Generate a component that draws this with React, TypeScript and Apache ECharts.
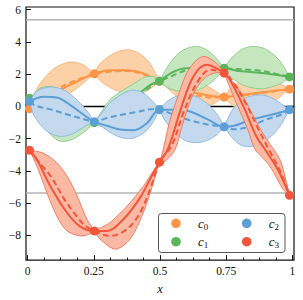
import React, { useEffect, useRef } from "react";
import * as echarts from "echarts";

type Pt = [number, number];

// x positions of the observed points
const dotX = [0.007, 0.252, 0.498, 0.742, 0.989];

// observed values
const c0Dots = [-0.14, 2.02, 1.55, 0.58, 1.07];
const c1Dots = [0.5, -1.0, 1.57, 2.37, 1.83];
const c2Dots = [0.31, -0.95, -0.2, -1.27, -0.2];
const c3Dots = [-2.72, -7.73, -3.46, 2.07, -5.52];

// c0
const c0Upper: Pt[] = [[0.007,-0.14],[0.04,1.24],[0.1,2.35],[0.16,2.76],[0.21,2.58],[0.252,2.02],[0.27,2.6],[0.31,3.15],[0.35,3.45],[0.39,3.5],[0.43,3.2],[0.465,2.6],[0.498,1.55],[0.53,2.0],[0.58,2.0],[0.63,1.75],[0.663,1.45],[0.7,1.05],[0.742,0.58],[0.77,1.2],[0.81,1.5],[0.86,1.65],[0.91,1.65],[0.95,1.45],[0.989,1.07]];
const c0Lower: Pt[] = [[0.007,-0.14],[0.05,-0.5],[0.1,0.1],[0.16,0.82],[0.2,1.3],[0.252,2.02],[0.28,1.5],[0.32,1.1],[0.37,0.8],[0.41,0.75],[0.45,0.95],[0.498,1.55],[0.53,1.1],[0.58,0.4],[0.63,0.05],[0.663,0.0],[0.7,0.15],[0.742,0.58],[0.77,0.1],[0.81,-0.2],[0.86,-0.3],[0.91,-0.1],[0.95,0.55],[0.989,1.07]];
const c0Mean: Pt[] = [[0.007,-0.14],[0.06,0.4],[0.12,1.0],[0.18,1.5],[0.252,2.02],[0.31,2.25],[0.375,2.25],[0.437,2.05],[0.498,1.55],[0.55,1.25],[0.6,0.98],[0.65,0.78],[0.7,0.63],[0.742,0.58],[0.8,0.7],[0.87,0.85],[0.94,0.98],[0.989,1.07]];
const c0True: Pt[] = [[0.007,-0.14],[0.06,0.5],[0.12,1.15],[0.18,1.6],[0.252,2.02],[0.31,2.15],[0.375,2.2],[0.437,2.0],[0.498,1.55],[0.55,1.15],[0.6,0.85],[0.65,0.65],[0.7,0.55],[0.742,0.58],[0.8,0.65],[0.87,0.8],[0.94,0.95],[0.989,1.07]];

// c1
const c1Upper: Pt[] = [[0.007,0.5],[0.05,1.15],[0.1,1.2],[0.15,0.75],[0.2,0.0],[0.252,-1.0],[0.28,-0.3],[0.31,0.4],[0.35,0.9],[0.4,1.4],[0.44,1.8],[0.475,1.85],[0.498,1.57],[0.53,2.5],[0.57,3.3],[0.61,3.65],[0.65,3.7],[0.69,3.35],[0.72,2.85],[0.742,2.37],[0.77,3.0],[0.81,3.55],[0.85,3.72],[0.89,3.62],[0.93,3.2],[0.96,2.65],[0.989,1.83]];
const c1Lower: Pt[] = [[0.007,0.5],[0.03,-0.4],[0.07,-1.45],[0.12,-2.15],[0.17,-2.05],[0.22,-1.5],[0.252,-1.0],[0.28,-1.25],[0.32,-1.0],[0.36,-0.4],[0.4,0.25],[0.44,0.9],[0.47,1.35],[0.498,1.57],[0.53,1.15],[0.57,0.95],[0.61,0.9],[0.65,1.05],[0.69,1.45],[0.72,1.9],[0.742,2.37],[0.77,1.8],[0.81,1.35],[0.85,1.15],[0.89,1.1],[0.93,1.25],[0.96,1.45],[0.989,1.83]];
const c1Mean: Pt[] = [[0.007,0.5],[0.05,0.25],[0.1,-0.3],[0.15,-0.7],[0.2,-0.9],[0.252,-1.0],[0.3,-0.7],[0.35,-0.15],[0.4,0.55],[0.44,1.05],[0.47,1.4],[0.498,1.57],[0.54,2.05],[0.59,2.35],[0.65,2.38],[0.7,2.33],[0.742,2.37],[0.79,2.22],[0.865,2.1],[0.94,1.95],[0.989,1.83]];
const c1True: Pt[] = [[0.007,0.5],[0.05,0.1],[0.1,-0.4],[0.15,-0.75],[0.2,-0.95],[0.252,-1.0],[0.3,-0.85],[0.35,-0.4],[0.4,0.3],[0.44,0.9],[0.47,1.3],[0.498,1.57],[0.54,1.85],[0.59,2.2],[0.65,2.45],[0.7,2.42],[0.742,2.37],[0.79,2.32],[0.865,2.25],[0.94,2.02],[0.989,1.83]];

// c2
const c2Upper: Pt[] = [[0.007,0.31],[0.04,1.0],[0.09,1.2],[0.14,1.0],[0.19,0.35],[0.225,-0.3],[0.252,-0.95],[0.28,-0.4],[0.31,0.2],[0.35,0.7],[0.39,1.0],[0.43,0.9],[0.465,0.45],[0.498,-0.2],[0.53,0.35],[0.57,0.68],[0.61,0.72],[0.65,0.5],[0.69,0.0],[0.72,-0.6],[0.742,-1.27],[0.77,-0.3],[0.8,0.3],[0.84,0.62],[0.88,0.72],[0.92,0.55],[0.955,0.2],[0.989,-0.2]];
const c2Lower: Pt[] = [[0.007,0.31],[0.025,-0.6],[0.07,-1.5],[0.12,-1.86],[0.17,-1.7],[0.22,-1.2],[0.252,-0.95],[0.28,-1.25],[0.31,-1.6],[0.35,-1.92],[0.39,-2.0],[0.43,-1.75],[0.465,-1.2],[0.498,-0.2],[0.52,-0.9],[0.56,-1.7],[0.6,-2.15],[0.64,-2.25],[0.68,-2.1],[0.715,-1.75],[0.742,-1.27],[0.77,-1.9],[0.8,-2.35],[0.83,-2.5],[0.87,-2.4],[0.91,-2.0],[0.95,-1.3],[0.989,-0.2]];
const c2Mean: Pt[] = [[0.007,0.31],[0.06,0.6],[0.11,0.55],[0.16,0.1],[0.21,-0.5],[0.252,-0.95],[0.3,-1.2],[0.35,-1.44],[0.4,-1.48],[0.45,-1.05],[0.498,-0.2],[0.55,-0.2],[0.61,-0.3],[0.68,-0.8],[0.742,-1.27],[0.78,-1.2],[0.84,-0.85],[0.9,-0.6],[0.96,-0.35],[0.989,-0.2]];
const c2True: Pt[] = [[0.007,0.31],[0.03,0.05],[0.09,-0.2],[0.15,-0.5],[0.21,-0.78],[0.252,-0.95],[0.3,-0.72],[0.36,-0.5],[0.42,-0.32],[0.47,-0.17],[0.498,-0.2],[0.55,-0.5],[0.61,-0.85],[0.68,-1.12],[0.742,-1.27],[0.78,-1.42],[0.84,-1.24],[0.9,-0.82],[0.96,-0.5],[0.989,-0.2]];

// c3
const c3Upper: Pt[] = [[0.007,-2.72],[0.06,-2.9],[0.11,-3.5],[0.15,-4.35],[0.187,-5.55],[0.224,-7.0],[0.252,-7.73],[0.28,-7.5],[0.312,-7.2],[0.375,-6.2],[0.437,-4.95],[0.475,-4.0],[0.498,-3.46],[0.512,-2.68],[0.535,-1.0],[0.563,0.41],[0.601,2.07],[0.639,2.89],[0.67,3.1],[0.714,2.68],[0.742,2.07],[0.79,1.24],[0.84,-0.2],[0.875,-1.3],[0.905,-2.1],[0.953,-3.3],[0.978,-4.74],[0.989,-5.52]];
const c3Lower: Pt[] = [[0.007,-2.72],[0.035,-3.7],[0.073,-5.36],[0.11,-6.8],[0.149,-7.73],[0.199,-8.04],[0.23,-7.95],[0.252,-7.73],[0.274,-8.24],[0.331,-8.86],[0.387,-8.24],[0.437,-6.6],[0.47,-5.0],[0.498,-3.46],[0.52,-3.4],[0.557,-2.68],[0.58,-1.4],[0.601,-0.3],[0.625,0.75],[0.651,1.45],[0.68,1.9],[0.715,2.1],[0.742,2.07],[0.752,1.65],[0.783,0.41],[0.827,-1.24],[0.859,-2.68],[0.88,-3.07],[0.915,-3.71],[0.965,-5.15],[0.989,-5.52]];
const c3Mean: Pt[] = [[0.007,-2.72],[0.035,-3.3],[0.086,-4.95],[0.149,-6.6],[0.199,-7.46],[0.252,-7.73],[0.3,-7.73],[0.362,-7.0],[0.425,-5.66],[0.475,-4.12],[0.498,-3.46],[0.531,-2.6],[0.582,0.0],[0.626,1.86],[0.676,2.58],[0.742,2.07],[0.764,1.65],[0.815,0.0],[0.865,-1.9],[0.9,-2.75],[0.946,-3.95],[0.989,-5.52]];
const c3True: Pt[] = [[0.007,-2.72],[0.04,-3.4],[0.09,-4.4],[0.14,-5.8],[0.18,-6.7],[0.21,-7.3],[0.252,-7.73],[0.312,-8.04],[0.375,-7.62],[0.425,-6.6],[0.469,-4.85],[0.498,-3.46],[0.545,-2.4],[0.588,-0.41],[0.639,1.45],[0.689,2.27],[0.742,2.07],[0.777,1.5],[0.827,0.1],[0.877,-1.6],[0.915,-2.8],[0.959,-4.2],[0.989,-5.52]];

// reference lines
const boundLevels = [5.38, -5.38];
const zeroLevel = 0;

// axes
const xMajorTicks = [0, 0.25, 0.5, 0.75, 1];
const xMinorTicks = [0.0625, 0.125, 0.1875, 0.3125, 0.375, 0.4375, 0.5625, 0.625, 0.6875, 0.8125, 0.875, 0.9375];
const yTicks = [-8, -6, -4, -2, 0, 2, 4, 6];
const xRange = [-0.006, 1.006];
const yRange = [-9.54, 6.17];

const names = ["0", "1", "2", "3"];
const lineColors = ["#fd9546", "#5bb55b", "#5a9fd5", "#f2553a"];
const fillColors = ["#fdd1a8", "#c6e6c0", "#c4d9ee", "#fbb8a2"];
const edgeColors = ["#fcae70", "#80c880", "#80b3dd", "#f06a4f"];

const FONT = "'Liberation Serif', 'DejaVu Serif', serif";

function segmentsOf(upper: Pt[], lower: Pt[]) {
  const segs: { upper: Pt[]; lower: Pt[] }[] = [];
  for (let i = 0; i < dotX.length - 1; i++) {
    const a = dotX[i] - 1e-6;
    const b = dotX[i + 1] + 1e-6;
    segs.push({
      upper: upper.filter((p) => p[0] >= a && p[0] <= b),
      lower: lower.filter((p) => p[0] >= a && p[0] <= b),
    });
  }
  return segs;
}

function bandSeries(k: number, upper: Pt[], lower: Pt[]) {
  const segs = segmentsOf(upper, lower);
  return {
    type: "custom",
    name: "band" + k,
    silent: true,
    z: 10 + k * 4,
    data: segs.map((s) => [s.upper[0][0], s.upper[0][1]]),
    renderItem: (params: any, api: any) => {
      const s = segs[params.dataIndex];
      const up = s.upper.map((p) => api.coord(p));
      const lo = s.lower.map((p) => api.coord(p)).reverse();
      const pts = [...up, up[up.length - 1], ...lo.slice(1)];
      return {
        type: "polygon",
        shape: { points: pts, smooth: 0.3 },
        style: { fill: fillColors[k], stroke: edgeColors[k], lineWidth: 0.8 },
      };
    },
  };
}

function lineSeries(k: number, data: Pt[], dashed: boolean) {
  return {
    type: "line",
    name: (dashed ? "true" : "mean") + k,
    data,
    smooth: 0.35,
    showSymbol: false,
    silent: true,
    z: 11 + k * 4 + (dashed ? 1 : 0),
    lineStyle: {
      color: lineColors[k],
      width: 2,
      type: dashed ? [6, 3.5] : "solid",
    },
  };
}

function dotSeries(k: number, ys: number[]) {
  return {
    type: "scatter",
    name: "c" + names[k],
    data: dotX.map((x, i) => [x, ys[i]]),
    symbolSize: 9,
    silent: true,
    z: 13 + k * 4,
    itemStyle: { color: lineColors[k], opacity: 1 },
  };
}

function hLine(y: number, color: string, width: number) {
  return {
    type: "line",
    data: [
      [xRange[0], y],
      [xRange[1], y],
    ],
    showSymbol: false,
    silent: true,
    z: 1,
    lineStyle: { color, width },
  };
}

export default function App() {
  const ref = useRef<HTMLDivElement>(null);
  useEffect(() => {
    if (!ref.current) return;
    const chart = echarts.init(ref.current, undefined, { renderer: "svg" });
    const uppers = [c0Upper, c1Upper, c2Upper, c3Upper];
    const lowers = [c0Lower, c1Lower, c2Lower, c3Lower];
    const means = [c0Mean, c1Mean, c2Mean, c3Mean];
    const trues = [c0True, c1True, c2True, c3True];
    const dots = [c0Dots, c1Dots, c2Dots, c3Dots];
    const series: any[] = [
      hLine(boundLevels[0], "#b4b4b4", 1.5),
      hLine(boundLevels[1], "#b4b4b4", 1.5),
      hLine(zeroLevel, "#000", 1.5),
    ];
    for (let k = 0; k < 4; k++) {
      series.push(bandSeries(k, uppers[k], lowers[k]));
      series.push(lineSeries(k, means[k], false));
      series.push(lineSeries(k, trues[k], true));
      series.push(dotSeries(k, dots[k]));
    }

    const legendX = [176, 246.7];
    const legendY = [223.3, 241.7];
    const legendOrder = [
      [0, 0, 0],
      [1, 0, 1],
      [2, 1, 0],
      [3, 1, 1],
    ];
    const graphic: any[] = [
      {
        type: "rect",
        shape: { x: 158.5, y: 213.5, width: 126.5, height: 39, r: 3 },
        style: { fill: "rgba(255,255,255,0.85)", stroke: "#555", lineWidth: 1 },
        z: 100,
      },
    ];
    legendOrder.forEach(([k, col, row]) => {
      graphic.push({
        type: "circle",
        shape: { cx: legendX[col], cy: legendY[row], r: 4.8 },
        style: { fill: lineColors[k] },
        z: 101,
      });
      graphic.push({
        type: "text",
        x: legendX[col] + 22,
        y: legendY[row],
        style: {
          text: "{c|c}{s|" + names[k] + "}",
          verticalAlign: "middle",
          rich: {
            c: { fontFamily: FONT, fontStyle: "italic", fontSize: 13, lineHeight: 16, fill: "#111" },
            s: { fontFamily: FONT, fontSize: 9, lineHeight: 9, verticalAlign: "bottom", fill: "#111" },
          },
        },
        z: 101,
      });
    });

    chart.setOption({
      animation: false,
      grid: {
        left: 26,
        right: 9,
        top: 7,
        bottom: 39,
        show: true,
        borderColor: "#111",
        borderWidth: 1.2,
        backgroundColor: "transparent",
      },
      xAxis: [
        {
          type: "value",
          min: xRange[0],
          max: xRange[1],
          name: "x",
          nameLocation: "middle",
          nameGap: 21,
          nameTextStyle: { fontFamily: FONT, fontStyle: "italic", fontSize: 12.5, color: "#111" },
          axisLine: { show: false, onZero: false },
          splitLine: { show: false },
          axisTick: { show: true, inside: true, length: 5, customValues: xMajorTicks, lineStyle: { color: "#111", width: 1 } },
          axisLabel: {
            show: true,
            customValues: xMajorTicks,
            margin: 5,
            fontFamily: FONT,
            fontSize: 11.5,
            color: "#111",
            formatter: (v: number) => String(v),
          },
        },
        {
          type: "value",
          min: xRange[0],
          max: xRange[1],
          position: "bottom",
          axisLine: { show: false, onZero: false },
          splitLine: { show: false },
          axisLabel: { show: false },
          axisTick: { show: true, inside: true, length: 2.5, customValues: xMinorTicks, lineStyle: { color: "#111", width: 1 } },
        },
      ],
      yAxis: {
        type: "value",
        min: yRange[0],
        max: yRange[1],
        axisLine: { show: false, onZero: false },
        splitLine: { show: false },
        axisTick: { show: true, inside: true, length: 5, customValues: yTicks, lineStyle: { color: "#111", width: 1 } },
        axisLabel: {
          show: true,
          customValues: yTicks,
          margin: 5,
          fontFamily: FONT,
          fontSize: 11.5,
          color: "#111",
          formatter: (v: number) => (v < 0 ? "\u2212" + Math.abs(v) : String(v)),
        },
      },
      series,
      graphic,
    });
    return () => chart.dispose();
  }, []);
  return (
    <div
      ref={ref}
      style={{ position: "fixed", left: 0, top: 0, width: 303, height: 300, background: "#fff" }}
    />
  );
}
